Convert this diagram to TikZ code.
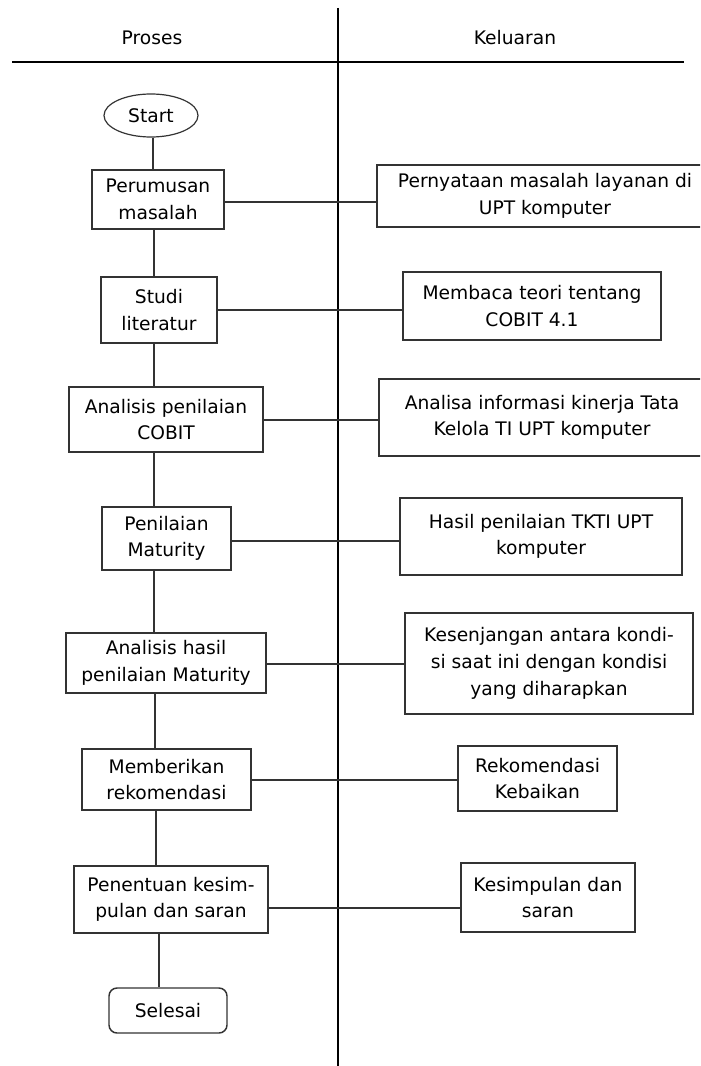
\documentclass[tikz,border=0pt]{standalone}
\usepackage{fontspec}
\setmainfont{DejaVu Sans}
\usetikzlibrary{shapes.geometric}
\definecolor{ln}{HTML}{333333}
\tikzset{
  box/.style={draw=ln, line width=1.1pt, rectangle, inner sep=0pt, align=center,
    font=\fontsize{14}{20}\selectfont, text=black},
  oval/.style={draw=ln, line width=0.9pt, ellipse, inner sep=0pt, align=center,
    font=\fontsize{14}{20}\selectfont, text=black},
  term/.style={box, rounded corners=6pt},
  head/.style={font=\fontsize{14}{20}\selectfont, text=black, inner sep=0pt},
  conn/.style={draw=ln, line width=1.1pt},
  rule/.style={draw=black, line width=1.1pt}
}
\begin{document}
\begin{tikzpicture}[x=0.75pt,y=-0.75pt]
\useasboundingbox (0,0) rectangle (700,1066);
\fill[white] (0,0) rectangle (700,1066);
\begin{scope}
\clip (0,0) rectangle (700,1066);
% header and dividers
\node[head] (hp) at (152,38) {Proses};
\node[head] (hk) at (515,38) {Keluaran};
\coordinate (vtop) at (338,8);
\coordinate (vbot) at (338,1066);
\coordinate (hl) at (12,62);
\coordinate (hr) at (684,62);
\draw[rule] (vtop) -- (vbot);
\draw[rule] (hl) -- (hr);

% process column
\node[oval, minimum width=70.5pt, minimum height=32.25pt] (start) at (151,115.5) {Start};
\node[box, minimum width=99pt, minimum height=44.25pt] (p1) at (158,199.5) {Perumusan\\masalah};
\node[box, minimum width=87pt, minimum height=49.5pt] (p2) at (159,310) {Studi\\literatur};
\node[box, minimum width=145.5pt, minimum height=48.75pt] (p3) at (166,419.5) {Analisis penilaian\\COBIT};
\node[box, minimum width=96.75pt, minimum height=47.25pt] (p4) at (166.5,538.5) {Penilaian\\Maturity};
\node[box, minimum width=150pt, minimum height=45pt] (p5) at (166,663) {Analisis hasil\\penilaian Maturity};
\node[box, minimum width=126.75pt, minimum height=45.75pt] (p6) at (166.5,779.5) {Memberikan\\rekomendasi};
\node[box, minimum width=145.5pt, minimum height=50.25pt] (p7) at (171,899.5) {Penentuan kesim-\\pulan dan saran};
\node[term, minimum width=88.5pt, minimum height=33.75pt] (end) at (168,1010.5) {Selesai};

% output column
\node[box, minimum width=252pt, minimum height=46.5pt] (r1) at (545,196) {Pernyataan masalah layanan di\\UPT komputer};
\node[box, minimum width=193.5pt, minimum height=51pt] (r2) at (532,306) {Membaca teori tentang\\COBIT 4.1};
\node[box, minimum width=244.5pt, minimum height=57.75pt] (r3) at (542,417.5) {Analisa informasi kinerja Tata\\Kelola TI UPT komputer};
\node[box, minimum width=211.5pt, minimum height=57.75pt] (r4) at (541,536.5) {Hasil penilaian TKTI UPT\\komputer};
\node[box, minimum width=216pt, minimum height=75.75pt] (r5) at (549,663.5) {Kesenjangan antara kondi-\\si saat ini dengan kondisi\\yang diharapkan};
\node[box, minimum width=119.25pt, minimum height=48.75pt] (r6) at (537.5,778.5) {Rekomendasi\\Kebaikan};
\node[box, minimum width=130.5pt, minimum height=51.75pt] (r7) at (548,897.5) {Kesimpulan dan\\saran};

% vertical flow connectors
\draw[conn] (start.south -| 153,0) -- (p1.north -| 153,0);
\draw[conn] (p1.south -| 154,0) -- (p2.north -| 154,0);
\draw[conn] (p2.south -| 154,0) -- (p3.north -| 154,0);
\draw[conn] (p3.south -| 154,0) -- (p4.north -| 154,0);
\draw[conn] (p4.south -| 154,0) -- (p5.north -| 154,0);
\draw[conn] (p5.south -| 155,0) -- (p6.north -| 155,0);
\draw[conn] (p6.south -| 156,0) -- (p7.north -| 156,0);
\draw[conn] (p7.south -| 159,0) -- (end.north -| 159,0);

% horizontal connectors to outputs
\draw[conn] (p1.east |- 0,202) -- (r1.west |- 0,202);
\draw[conn] (p2.east |- 0,310) -- (r2.west |- 0,310);
\draw[conn] (p3.east |- 0,420) -- (r3.west |- 0,420);
\draw[conn] (p4.east |- 0,541) -- (r4.west |- 0,541);
\draw[conn] (p5.east |- 0,664) -- (r5.west |- 0,664);
\draw[conn] (p6.east |- 0,780) -- (r6.west |- 0,780);
\draw[conn] (p7.east |- 0,908) -- (r7.west |- 0,908);
\end{scope}
\end{tikzpicture}
\end{document}
